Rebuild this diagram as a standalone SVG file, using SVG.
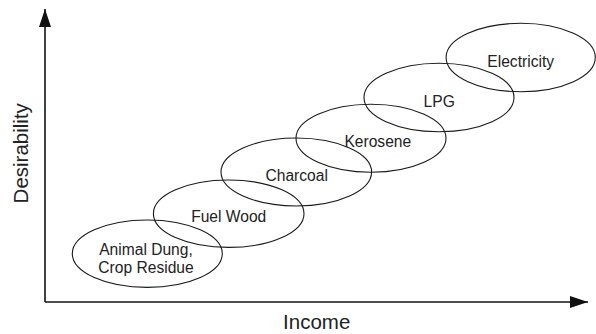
<svg xmlns="http://www.w3.org/2000/svg" width="596" height="334" viewBox="0 0 596 334">
<style>
.n ellipse{fill:none;stroke:#1a1a1a;stroke-width:1.1}
.n text{font-family:"Liberation Sans",Arial,sans-serif;font-size:15.6px;fill:#222;text-anchor:middle}
.ax{stroke:#111;stroke-width:1.6;fill:none}
.lab{font-family:"Liberation Sans",Arial,sans-serif;font-size:20.5px;fill:#222;text-anchor:middle}
</style>
<defs>
<marker id="ah" markerWidth="18" markerHeight="12" refX="18" refY="6" orient="auto" markerUnits="userSpaceOnUse">
<path d="M0,0 L18,6 L0,12 Z" fill="#111"/>
</marker>
</defs>
<rect width="596" height="334" fill="#fff"/>
<g id="connectors">
<path class="ax" d="M45,302 V9" marker-end="url(#ah)"/>
<path class="ax" d="M45,302 H588" marker-end="url(#ah)"/>
</g>
<g id="n-dung" class="n">
<ellipse cx="147.3" cy="253.7" rx="75" ry="33.7"/>
<text x="146" y="255">Animal Dung,</text>
<text x="146" y="273.3">Crop Residue</text>
</g>
<g id="n-fuelwood" class="n">
<ellipse cx="228.7" cy="213.7" rx="75.3" ry="33.7"/>
<text x="228.7" y="221.7">Fuel Wood</text>
</g>
<g id="n-charcoal" class="n">
<ellipse cx="296.3" cy="172" rx="75.3" ry="34"/>
<text x="296.7" y="181">Charcoal</text>
</g>
<g id="n-kerosene" class="n">
<ellipse cx="371" cy="138.3" rx="75" ry="34"/>
<text x="377.8" y="146.7">Kerosene</text>
</g>
<g id="n-lpg" class="n">
<ellipse cx="439" cy="97.5" rx="75" ry="34.2"/>
<text x="439.2" y="107.3">LPG</text>
</g>
<g id="n-electricity" class="n">
<ellipse cx="520.7" cy="57.5" rx="74.6" ry="34.2"/>
<text x="520.7" y="67.3">Electricity</text>
</g>
<text class="lab" x="316.7" y="329">Income</text>
<text class="lab" transform="translate(28,153.3) rotate(-90)">Desirability</text>
</svg>
